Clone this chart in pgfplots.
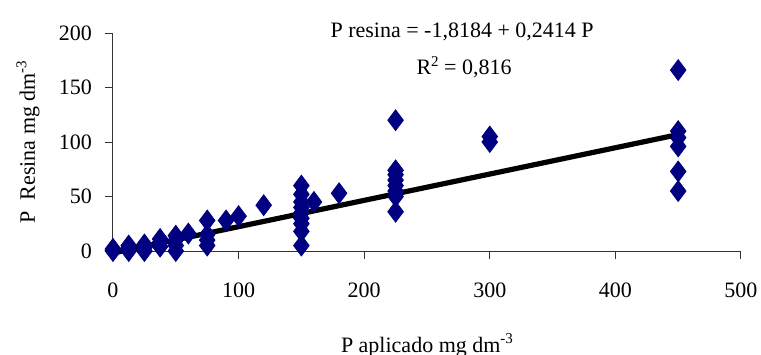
\documentclass[border=0pt]{standalone}
\usepackage{fontspec}
\setmainfont{Liberation Serif}
\usepackage{pgfplots}
\pgfplotsset{compat=1.18}
\definecolor{navyx}{RGB}{0,0,128}
\newcommand{\sups}[1]{\raisebox{0.85ex}{\fontsize{7.5}{9}\selectfont #1}}
\begin{document}
\begin{tikzpicture}
\path[use as bounding box] (-56.5pt,-51.5pt) rectangle (324pt,125.5pt);
\begin{axis}[
  at={(0pt,0pt)}, anchor=origin,
  scale only axis, width=314pt, height=109pt,
  xmin=0, xmax=500, ymin=0, ymax=200,
  xtick={0,100,200,300,400,500}, ytick={0,50,100,150,200},
  axis lines=left, axis line style={-, line width=0.5pt, black!80},
  tick align=outside, major tick length=4pt,
  tick style={line width=0.5pt, black!80},
  clip=false,
  font=\fontsize{11}{13}\selectfont,
  /pgf/number format/assume math mode=true,
  ticklabel style={font=\fontsize{11}{13}\selectfont},
  xticklabel style={yshift=-8.5pt},
  yticklabel style={xshift=-3pt},
  xlabel={P aplicado mg dm\sups{-3}},
  ylabel={P\ \ Resina mg dm\sups{-3}},
  xlabel style={at={(axis description cs:0.5,-0.4633)}, anchor=base},
  ylabel style={at={(axis description cs:-0.1242,0.5)}, anchor=base},
]
\addplot[only marks, mark=diamond*, mark size=5.2pt, mark options={fill=navyx, draw=navyx}] coordinates {
(0,0) (0,1) (0,2) (0,0.5)
(12.5,0) (12.5,3) (12.5,5)
(25,0) (25,3) (25,6)
(37.5,4) (37.5,8) (37.5,11)
(50,0) (50,5) (50,10) (50,14)
(60,16)
(75,5) (75,10) (75,15) (75,28)
(90,28)
(100,32)
(120,42)
(150,5) (150,18) (150,25) (150,30) (150,35) (150,40) (150,45) (150,52) (150,60)
(160,45)
(180,53)
(225,36) (225,50) (225,55) (225,60) (225,65) (225,70) (225,74) (225,120)
(300,100) (300,105)
(450,55) (450,73) (450,96) (450,104) (450,110) (450,166)
};
\addplot[black, line width=2.6pt, no marks] coordinates {(0,-1.8184) (450,106.8116)};
\node[anchor=base, font=\fontsize{11}{13}\selectfont] at (axis cs:278,196.3) {P resina = -1,8184 + 0,2414 P};
\node[anchor=base, font=\fontsize{11}{13}\selectfont] at (axis cs:279.5,161.5) {R\sups{2} = 0,816};
\end{axis}
\end{tikzpicture}
\end{document}
